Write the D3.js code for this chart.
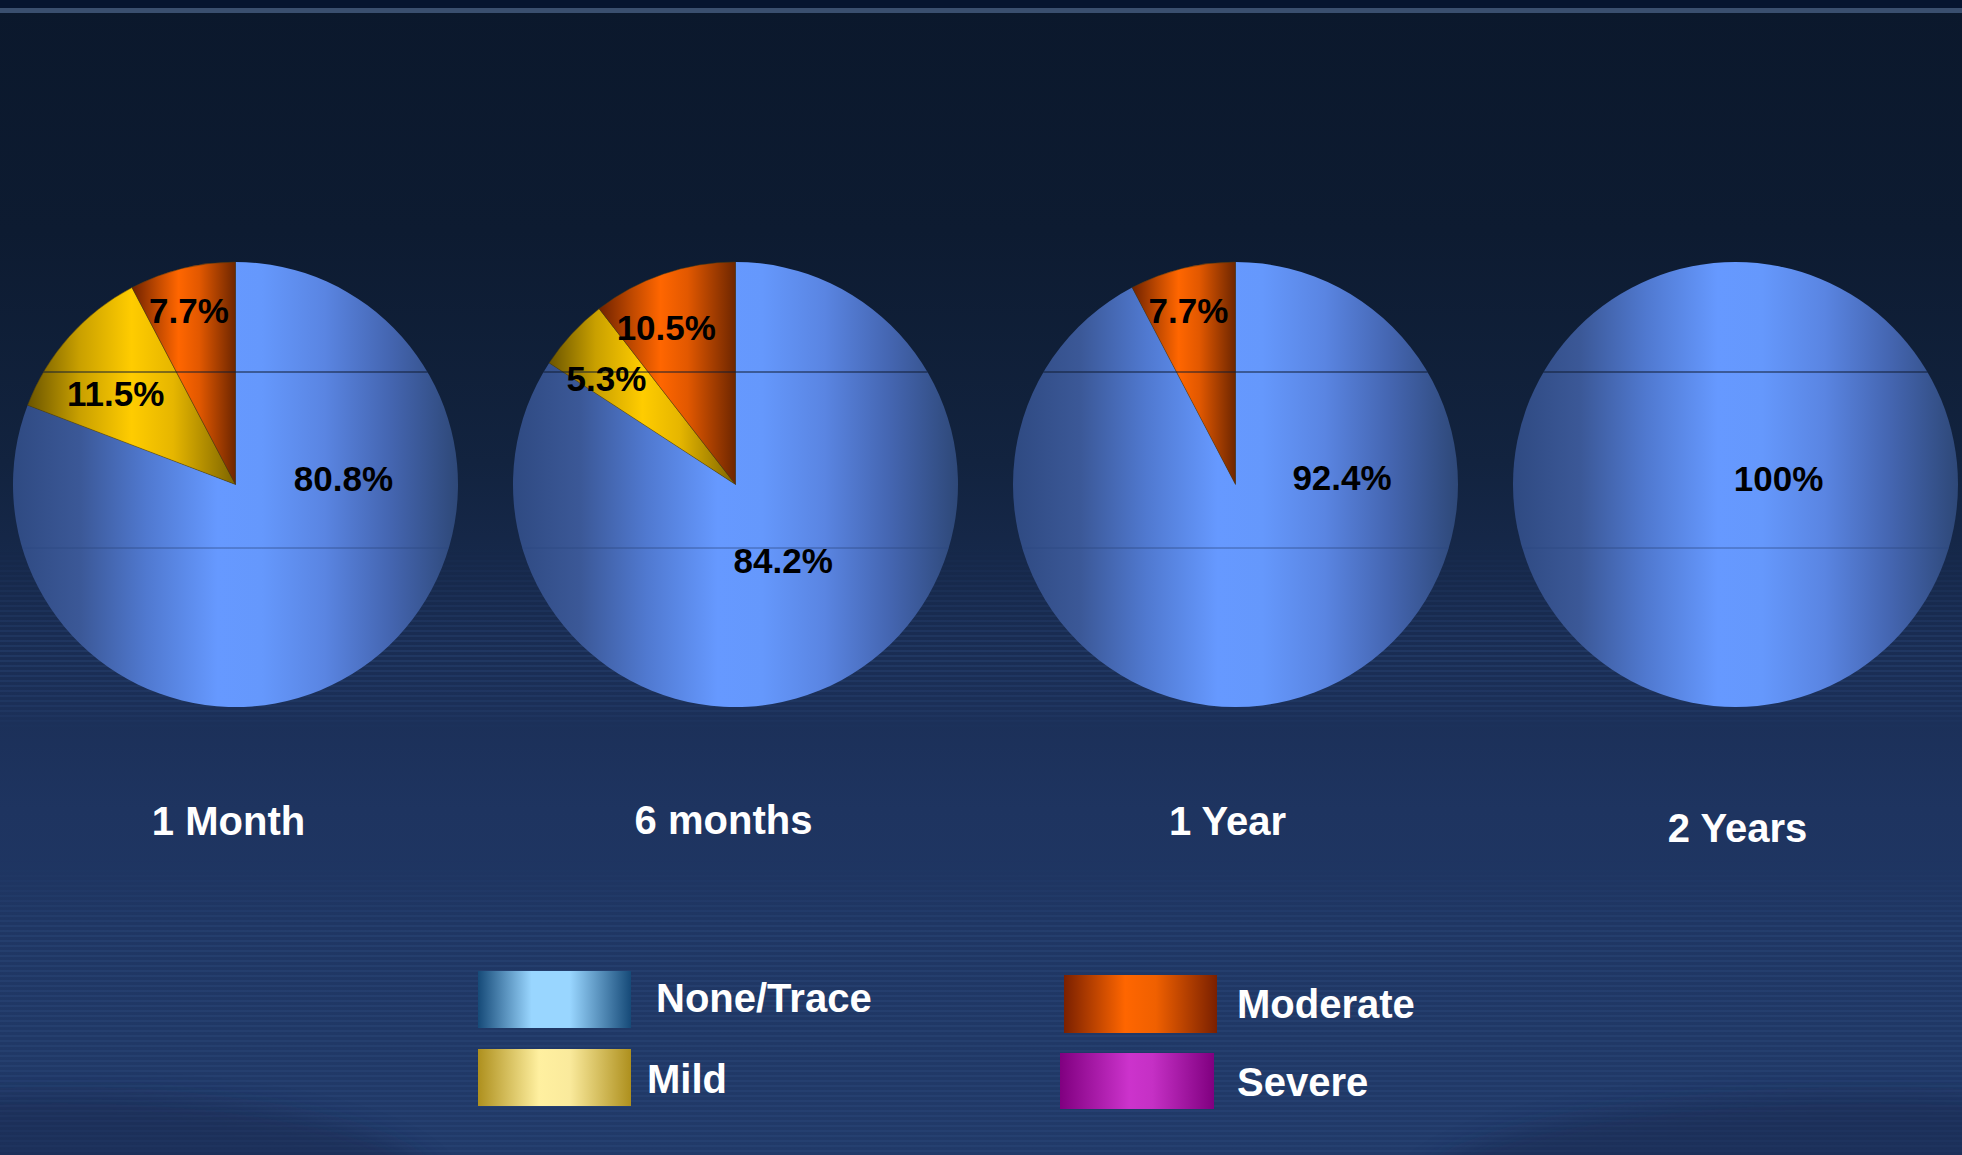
<!DOCTYPE html>
<html>
<head>
<meta charset="utf-8">
<title>Regurgitation grade over follow-up</title>
<script src="https://cdn.jsdelivr.net/npm/d3@7"></script>
<style>
  html, body { margin: 0; padding: 0; background: #0c1a2f; }
  svg { display: block; }
  text { font-family: "Liberation Sans", Arial, Helvetica, sans-serif; font-weight: bold; }
</style>
</head>
<body>
<svg id="chart" width="1962" height="1155"></svg>
<script>
// Follow-up time points and grade distribution (percent of patients)
const categories = ["1 Month", "6 months", "1 Year", "2 Years"];
const grades = ["None/Trace", "Mild", "Moderate", "Severe"];
const noneTrace = [80.8, 84.2, 92.4, 100];
const mild      = [11.5, 5.3, 0, 0];
const moderate  = [7.7, 10.5, 7.7, 0];
const severe    = [0, 0, 0, 0];

const seriesByGrade = [noneTrace, mild, moderate, severe];

// ---- layout ----
const W = 1962, H = 1155;
const R = 222.5, CY = 484.5;
const titleY = [835, 834, 835, 842];
const titleDx = [-7, -12, -8, 2];
// label offsets (from the centroid of each slice's label arc) per pie, per grade
const labelNudge = [
  [[9.5, -148.8], [10, 25], [-5, -5], [0, 0]],
  [[-35, -76], [-1.5, 12], [-13, 8], [0, 0]],
  [[65, -175], [0, 0], [-5.5, -5], [0, 0]],
  [[43, -179.5], [0, 0], [0, 0], [0, 0]]
];

const svg = d3.select("#chart");
const defs = svg.append("defs");

// background gradient
const bg = defs.append("linearGradient").attr("id", "bg")
  .attr("x1", 0).attr("y1", 0).attr("x2", 0).attr("y2", 1);
[[0, "#0b182c"], [0.2, "#0d1b31"], [0.4, "#12233f"], [0.55, "#192c52"],
 [0.7, "#1e3460"], [1, "#213a69"]].forEach(([o, c]) =>
  bg.append("stop").attr("offset", o).attr("stop-color", c));

// scanline stripes
const stripes = defs.append("pattern").attr("id", "stripes")
  .attr("patternUnits", "userSpaceOnUse").attr("width", 8).attr("height", 5);
stripes.append("rect").attr("width", 8).attr("height", 2).attr("fill", "#2d4a7c");

const fadeA = defs.append("linearGradient").attr("id", "fadeA")
  .attr("x1", 0).attr("y1", 0).attr("x2", 0).attr("y2", 1);
fadeA.append("stop").attr("offset", 0).attr("stop-color", "#fff").attr("stop-opacity", 0);
fadeA.append("stop").attr("offset", 0.6).attr("stop-color", "#fff").attr("stop-opacity", 0.9);
fadeA.append("stop").attr("offset", 0.9).attr("stop-color", "#fff").attr("stop-opacity", 0.6);
fadeA.append("stop").attr("offset", 1).attr("stop-color", "#fff").attr("stop-opacity", 0);
const fadeB = defs.append("linearGradient").attr("id", "fadeB")
  .attr("x1", 0).attr("y1", 0).attr("x2", 0).attr("y2", 1);
fadeB.append("stop").attr("offset", 0).attr("stop-color", "#fff").attr("stop-opacity", 0);
fadeB.append("stop").attr("offset", 0.25).attr("stop-color", "#fff").attr("stop-opacity", 1);
fadeB.append("stop").attr("offset", 1).attr("stop-color", "#fff").attr("stop-opacity", 1);
const maskA = defs.append("mask").attr("id", "maskA");
maskA.append("rect").attr("x", 0).attr("y", 540).attr("width", W).attr("height", 190).attr("fill", "url(#fadeA)");
maskA.append("rect").attr("x", 0).attr("y", 860).attr("width", W).attr("height", 295).attr("fill", "url(#fadeB)");

// pie fills: horizontal shading across each slice
function hGrad(id, stops) {
  const g = defs.append("linearGradient").attr("id", id)
    .attr("x1", 0).attr("y1", 0).attr("x2", 1).attr("y2", 0);
  stops.forEach(([o, c]) => g.append("stop").attr("offset", o).attr("stop-color", c));
}
hGrad("fill-0", [[0, "#2f4a82"], [0.15, "#3b5897"], [0.3, "#5079d0"], [0.46, "#6699ff"],
                 [0.56, "#6598fc"], [0.7, "#5a85e2"], [0.85, "#4465b0"], [1, "#2e4878"]]);
hGrad("fill-1", [[0, "#6b5500"], [0.25, "#c9a000"], [0.5, "#ffcc00"], [0.7, "#e6b600"], [1, "#7d6400"]]);
hGrad("fill-2", [[0, "#702200"], [0.25, "#c24a00"], [0.45, "#ff6600"], [0.65, "#e25800"], [1, "#6e2600"]]);
hGrad("fill-3", [[0, "#800080"], [0.45, "#cc33cc"], [1, "#800080"]]);

// legend swatch fills
hGrad("sw-0", [[0, "#164a78"], [0.35, "#99d6ff"], [0.6, "#99d6ff"], [1, "#164a78"]]);
hGrad("sw-1", [[0, "#ae901e"], [0.4, "#fff0a0"], [0.6, "#faea9c"], [1, "#ae901e"]]);
hGrad("sw-2", [[0, "#7a2000"], [0.4, "#ff6600"], [0.6, "#f06000"], [1, "#7a2000"]]);
hGrad("sw-3", [[0, "#800080"], [0.45, "#cc33cc"], [0.6, "#c530c5"], [1, "#800080"]]);

// ---- background ----
svg.append("rect").attr("width", W).attr("height", H).attr("fill", "url(#bg)");
svg.append("rect").attr("width", W).attr("height", 8).attr("fill", "#061530");
svg.append("rect").attr("y", 8).attr("width", W).attr("height", 5).attr("fill", "#3a4f6f");
svg.append("rect").attr("width", W).attr("height", H).attr("fill", "url(#stripes)")
  .attr("opacity", 0.4).attr("mask", "url(#maskA)");

// soft darker swells along the bottom corners
const blur = defs.append("filter").attr("id", "soft").attr("x", -0.5).attr("y", -0.5)
  .attr("width", 2).attr("height", 2);
blur.append("feGaussianBlur").attr("stdDeviation", 12);
svg.append("ellipse").attr("cx", 60).attr("cy", 1190).attr("rx", 380).attr("ry", 95)
  .attr("fill", "#142444").attr("opacity", 0.4).attr("filter", "url(#soft)");
svg.append("ellipse").attr("cx", 1870).attr("cy", 1200).attr("rx", 460).attr("ry", 105)
  .attr("fill", "#142444").attr("opacity", 0.4).attr("filter", "url(#soft)");

// ---- pies ----
const x = d3.scalePoint().domain(categories).range([235.5, 1735.5]);
const pie = d3.pie().sort(null).value(d => d.v);
const arc = d3.arc().innerRadius(0).outerRadius(R);
const labelArc = d3.arc().innerRadius(R * 0.78).outerRadius(R * 0.78);
const fmt = v => v + "%";

categories.forEach((cat, i) => {
  const slices = grades.map((g, k) => ({ grade: g, k, v: seriesByGrade[k][i] }));
  const cx = x(cat);
  const g = svg.append("g").attr("transform", `translate(${cx},${CY})`);

  defs.append("clipPath").attr("id", "clip-" + i)
    .append("circle").attr("r", R);

  const arcs = pie(slices).filter(d => d.data.v > 0);

  g.selectAll("path.slice").data(arcs).join("path")
    .attr("class", "slice")
    .attr("d", arc)
    .attr("fill", d => `url(#fill-${d.data.k})`)
    .attr("stroke", "#4a3a10")
    .attr("stroke-opacity", d => d.data.k === 0 ? 0 : 0.6)
    .attr("stroke-width", 0.8);

  // faint horizontal banding inside the disc
  const bands = g.append("g").attr("clip-path", `url(#clip-${i})`);
  bands.append("line").attr("x1", -R).attr("x2", R).attr("y1", -112.5).attr("y2", -112.5)
    .attr("stroke", "#101c33").attr("stroke-width", 1.2);
  bands.append("line").attr("x1", -R).attr("x2", R).attr("y1", 63.5).attr("y2", 63.5)
    .attr("stroke", "#2c4880").attr("stroke-width", 1).attr("stroke-opacity", 0.7);

  // value labels
  g.selectAll("text.val").data(arcs).join("text")
    .attr("class", "val")
    .attr("transform", d => {
      const [lx, ly] = labelArc.centroid(d);
      const [nx, ny] = labelNudge[i][d.data.k];
      return `translate(${lx + nx},${ly + ny + 12})`;
    })
    .attr("text-anchor", "middle")
    .attr("font-size", 35)
    .attr("fill", "#000")
    .text(d => fmt(d.data.v));

  // time-point title
  svg.append("text")
    .attr("x", cx + titleDx[i]).attr("y", titleY[i])
    .attr("text-anchor", "middle")
    .attr("font-size", 40)
    .attr("fill", "#fff")
    .text(cat);
});

// ---- legend ----
const legendItems = [
  { k: 0, sx: 478, sy: 971, sw: 153, sh: 57, tx: 656, ty: 1012 },
  { k: 1, sx: 478, sy: 1049, sw: 153, sh: 57, tx: 647, ty: 1093 },
  { k: 2, sx: 1064, sy: 975, sw: 153, sh: 58, tx: 1237, ty: 1018 },
  { k: 3, sx: 1060, sy: 1053, sw: 154, sh: 56, tx: 1237, ty: 1096 }
];
const legend = svg.append("g");
legend.selectAll("rect").data(legendItems).join("rect")
  .attr("x", d => d.sx).attr("y", d => d.sy)
  .attr("width", d => d.sw).attr("height", d => d.sh)
  .attr("fill", d => `url(#sw-${d.k})`);
legend.selectAll("text").data(legendItems).join("text")
  .attr("x", d => d.tx).attr("y", d => d.ty)
  .attr("font-size", 40)
  .attr("fill", "#fff")
  .text(d => grades[d.k]);
</script>
</body>
</html>
